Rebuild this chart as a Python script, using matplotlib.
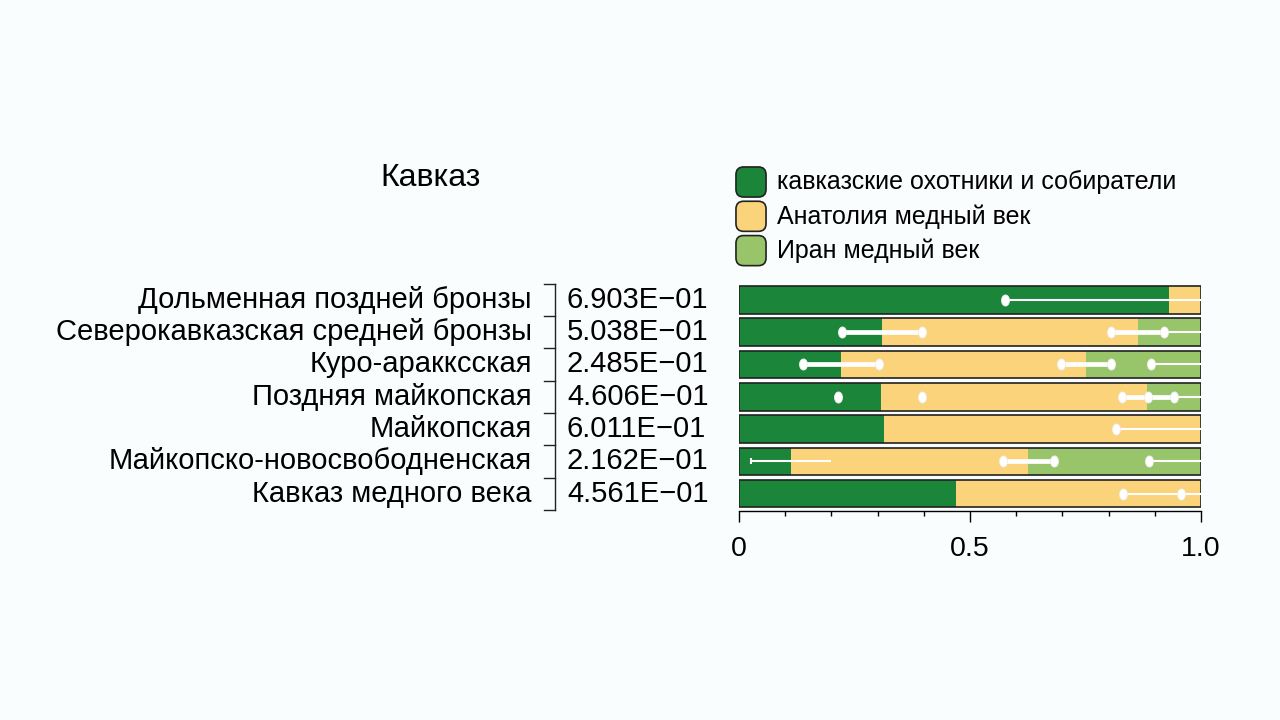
import matplotlib
matplotlib.use("Agg")
import matplotlib.pyplot as plt
from matplotlib.patches import Rectangle, FancyBboxPatch
from matplotlib.path import Path
from matplotlib.transforms import Affine2D, blended_transform_factory
from matplotlib.ticker import MultipleLocator

plt.rcParams['font.family'] = ['Liberation Sans', 'DejaVu Sans']

# data
groups = ['Дольменная поздней бронзы', 'Северокавказская средней бронзы',
          'Куро-аракксская', 'Поздняя майкопская', 'Майкопская',
          'Майкопско-новосвободненская', 'Кавказ медного века']
pvalues = ['6.903E\u221201', '5.038E\u221201', '2.485E\u221201', '4.606E\u221201',
           '6.011E\u221201', '2.162E\u221201', '4.561E\u221201']
components = ['кавказские охотники и собиратели', 'Анатолия медный век', 'Иран медный век']
colors = ['#1b853a', '#fad37b', '#98c56a']
hunter = [0.931, 0.310, 0.221, 0.307, 0.313, 0.113, 0.470]
anatolia = [0.069, 0.554, 0.530, 0.577, 0.687, 0.512, 0.530]
iran = [0.0, 0.136, 0.249, 0.116, 0.0, 0.375, 0.0]

# error bars: (row, lo, hi)
thick_err = [(1, 0.223, 0.396), (1, 0.805, 0.920), (2, 0.138, 0.303), (2, 0.697, 0.806),
             (3, 0.828, 0.941), (5, 0.571, 0.681)]
thin_err = [(0, 0.576, 1.0), (1, 0.920, 1.0), (2, 0.892, 1.0), (3, 0.941, 1.0),
            (4, 0.817, 1.0), (5, 0.027, 0.199), (5, 0.887, 1.0), (6, 0.832, 1.0)]
dots = [(0, 0.576), (1, 0.223), (1, 0.396), (1, 0.805), (1, 0.920),
        (2, 0.138), (2, 0.303), (2, 0.697), (2, 0.806), (2, 0.892),
        (3, 0.215), (3, 0.397), (3, 0.828), (3, 0.886), (3, 0.941),
        (4, 0.817), (5, 0.571), (5, 0.681), (5, 0.887), (6, 0.832), (6, 0.956)]
caps = [(5, 0.027)]

bg = '#fafdfe'
fig = plt.figure(figsize=(12.8, 7.2), dpi=100, facecolor=bg)
ax = fig.add_axes([739 / 1280, 1 - 510.7 / 720, 462 / 1280, 227 / 720])
ax.set_facecolor(bg)

rows = list(range(len(groups)))
h = 0.85
left = [0.0] * len(rows)
for vals, c in zip([hunter, anatolia, iran], colors):
    ax.barh(rows, vals, left=left, height=h, color=c, edgecolor='none', zorder=2)
    left = [l + v for l, v in zip(left, vals)]
for r in rows:
    ax.add_patch(Rectangle((0, r - h / 2), 1.0, h, fill=False, edgecolor='#222222', lw=1.2, zorder=3))

for r, lo, hi in thin_err:
    ax.plot([lo, hi], [r, r], color='white', lw=1.5, zorder=4, solid_capstyle='butt', clip_on=False)
for r, lo, hi in thick_err:
    ax.plot([lo, hi], [r, r], color='white', lw=3.4, zorder=5, solid_capstyle='round')
capsule = Path.unit_circle().transformed(Affine2D().scale(0.72, 1.0))
for r, x in dots:
    ax.plot(x, r, marker=capsule, ms=8, color='white', mec='#eeeeee', mew=0.6, zorder=6)
for r, x in caps:
    ax.plot(x, r, marker='|', ms=5, color='white', mew=1.5, zorder=6)

ax.set_xlim(0, 1.0)
ax.set_ylim(len(rows) - 1 + 0.526, -0.5)
for s in ['left', 'top', 'right']:
    ax.spines[s].set_visible(False)
ax.spines['bottom'].set_linewidth(1.0)
ax.set_yticks([])
ax.set_xticks([0, 0.5, 1.0])
ax.set_xticklabels(['0', '0.5', '1.0'], fontsize=20.5)
ax.xaxis.set_minor_locator(MultipleLocator(0.1))
ax.tick_params(axis='x', which='major', length=8, width=1.0, pad=10)
ax.tick_params(axis='x', which='minor', length=3.5, width=1.0)

# row labels, p-values and bracket
tr = blended_transform_factory(fig.transFigure, ax.transData)
for r in rows:
    fig.text(532 / 1280, r, groups[r], transform=tr, ha='right', va='center', fontsize=21)
    fig.text(567 / 1280, r, pvalues[r], transform=tr, ha='left', va='center', fontsize=21)
bx = 555 / 1280
ax.plot([bx, bx], [-0.5, len(rows) - 0.5], color='#222222', lw=1.0, transform=tr, clip_on=False)
for k in range(len(rows) + 1):
    ax.plot([544 / 1280, bx], [k - 0.5, k - 0.5], color='#222222', lw=1.0, transform=tr, clip_on=False)

# title
fig.text(431 / 1280, 1 - 178 / 720, 'Кавказ', ha='center', va='center', fontsize=23)

# legend
for i, (name, c) in enumerate(zip(components, colors)):
    yc = 1 - (182 + 34.3 * i) / 720
    w = 27 / 1280
    hh = 27 / 720
    fig.patches.append(FancyBboxPatch((737.5 / 1280, yc - hh / 2), w, hh,
                                      boxstyle='round,pad=0.0012,rounding_size=0.006',
                                      transform=fig.transFigure, facecolor=c,
                                      edgecolor='#222222', lw=1.2, mutation_aspect=1.78))
    fig.text(777 / 1280, yc, name, ha='left', va='center', fontsize=18)

fig.savefig('out.png', dpi=100, facecolor=bg)
